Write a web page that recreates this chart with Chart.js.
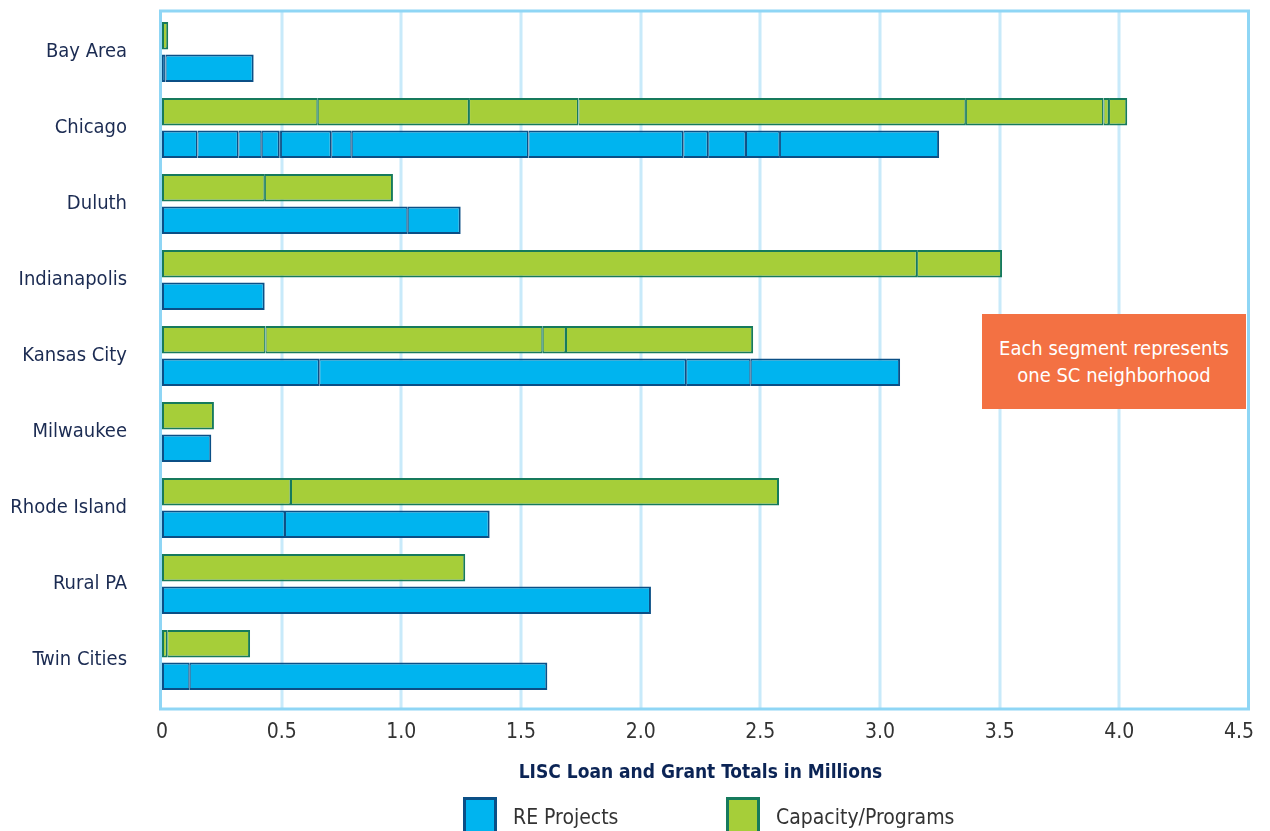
<!DOCTYPE html>
<html>
<head>
<meta charset="utf-8">
<script src="https://cdn.jsdelivr.net/npm/chart.js@4"></script>
<style>
  html, body { margin: 0; padding: 0; background: #fff; overflow: hidden; }
  #wrap { position: relative; width: 1270px; height: 831px; overflow: hidden; }
  #chart { position: absolute; left: 0; top: 0; }
  .cond { font-family: 'Liberation Sans Narrow', 'DejaVu Sans Condensed', 'Roboto', sans-serif; }
  #note {
    position: absolute; left: 982px; top: 314px; width: 264px; height: 95px;
    background: #f37143; color: #fff; font-size: 20px; line-height: 27px;
    display: flex; align-items: center; justify-content: center; text-align: center;
  }
  .legend-item { position: absolute; top: 797px; display: flex; align-items: flex-start; }
  .legend-box { width: 34px; height: 40px; border: 3px solid; box-sizing: border-box; }
  .legend-text { font-size: 21px; color: #333; margin-left: 16px; margin-top: 8px; }
</style>
</head>
<body>
<div id="wrap">
  <canvas id="chart" width="1270" height="831"></canvas>
  <div id="note" class="cond">Each segment represents<br>one SC neighborhood</div>
  <div class="legend-item" style="left:463px">
    <div class="legend-box" style="background:#00b4ef;border-color:#0b4f86"></div>
    <div class="legend-text cond">RE Projects</div>
  </div>
  <div class="legend-item" style="left:726px">
    <div class="legend-box" style="background:#a6ce39;border-color:#167a5c"></div>
    <div class="legend-text cond">Capacity/Programs</div>
  </div>
</div>
<script>
// ── Data (millions, one entry per SC neighborhood segment) ───
const cities = ['Bay Area', 'Chicago', 'Duluth', 'Indianapolis', 'Kansas City',
    'Milwaukee', 'Rhode Island', 'Rural PA', 'Twin Cities'];

const capacitySegments = [
    [0.026],
    [0.651, 0.632, 0.457, 1.619, 0.575, 0.023, 0.076],
    [0.430, 0.535],
    [3.155, 0.355],
    [0.433, 1.158, 0.097, 0.782],
    [0.217],
    [0.539, 2.039],
    [1.267],
    [0.022, 0.346],
];

const projectSegments = [
    [0.015, 0.368],
    [0.148, 0.171, 0.098, 0.073, 0.007, 0.210, 0.086, 0.738, 0.647, 0.104, 0.158, 0.142, 0.665],
    [1.027, 0.221],
    [0.429],
    [0.657, 1.533, 0.270, 0.624],
    [0.206],
    [0.514, 0.855],
    [2.043],
    [0.116, 1.494],
];

const xTicks = [0, 0.5, 1.0, 1.5, 2.0, 2.5, 3.0, 3.5, 4.0, 4.5];

const FONT = "'Liberation Sans Narrow', 'DejaVu Sans Condensed', 'Roboto', sans-serif";

// ── Build one dataset per segment position ───────────────────
function buildDatasets(segs, stack, label, fill, border) {
    const maxLen = Math.max(...segs.map(s => s.length));
    const out = [];
    for (let k = 0; k < maxLen; k++) {
        out.push({
            label,
            stack,
            data: segs.map(s => (k < s.length ? s[k] : null)),
            backgroundColor: fill,
            borderColor: border,
            borderSkipped: false,
            borderWidth: ctx => {
                const n = segs[ctx.dataIndex].length;
                return { top: 2, bottom: 2, left: k === 0 ? 2 : 1, right: k === n - 1 ? 2 : 1.5 };
            },
            categoryPercentage: 0.855,
            barPercentage: 0.85,
        });
    }
    return out;
}

const datasets = [
    ...buildDatasets(capacitySegments, 'cap', 'Capacity/Programs', '#a6ce39', '#167a5c'),
    ...buildDatasets(projectSegments, 're', 'RE Projects', '#00b4ef', '#0b4f86'),
];

// ── Frame + grid drawn from the x scale ──────────────────────
const framePlugin = {
    id: 'frame',
    beforeDatasetsDraw(chart) {
        const { ctx, scales: { x } } = chart;
        const top = 11, bottom = 709, left = 160.5, right = 1248.5;
        ctx.save();
        ctx.strokeStyle = '#c8eafa';
        ctx.lineWidth = 3;
        xTicks.slice(1, -1).forEach(v => {
            const px = Math.round(x.getPixelForValue(v));
            ctx.beginPath();
            ctx.moveTo(px, top);
            ctx.lineTo(px, bottom);
            ctx.stroke();
        });
        ctx.strokeStyle = '#8fd6f5';
        ctx.strokeRect(left, top, right - left, bottom - top);
        ctx.restore();
    },
};

new Chart(document.getElementById('chart'), {
    type: 'bar',
    data: { labels: cities, datasets },
    plugins: [framePlugin],
    options: {
        indexAxis: 'y',
        responsive: false,
        animation: false,
        layout: { padding: { top: 14, right: 31, left: 0, bottom: 0 } },
        scales: {
            x: {
                type: 'linear',
                stacked: true,
                min: 0,
                max: 4.5,
                afterFit: s => { s.height = 133; },
                afterBuildTicks: s => { s.ticks = xTicks.map(v => ({ value: v })); },
                ticks: {
                    color: '#333',
                    font: { family: FONT, size: 21 },
                    padding: 14,
                    callback: v => (v === 0 ? '0' : v.toFixed(1)),
                },
                grid: { display: false },
                border: { display: false },
                title: {
                    display: true,
                    text: 'LISC Loan and Grant Totals in Millions',
                    color: '#0b2455',
                    font: { family: FONT, size: 19, weight: 'bold' },
                    padding: { bottom: 47, top: 0 },
                },
            },
            y: {
                stacked: true,
                afterFit: s => {
                    s.width = 162;
                    s.paddingTop = 0;
                    s.paddingBottom = 0;
                },
                ticks: {
                    color: '#1b2b52',
                    font: { family: FONT, size: 20 },
                    padding: 35,
                },
                grid: { display: false, drawTicks: false },
                border: { display: false },
            },
        },
        plugins: {
            legend: { display: false },
            tooltip: { enabled: false },
        },
    },
});
</script>
</body>
</html>
